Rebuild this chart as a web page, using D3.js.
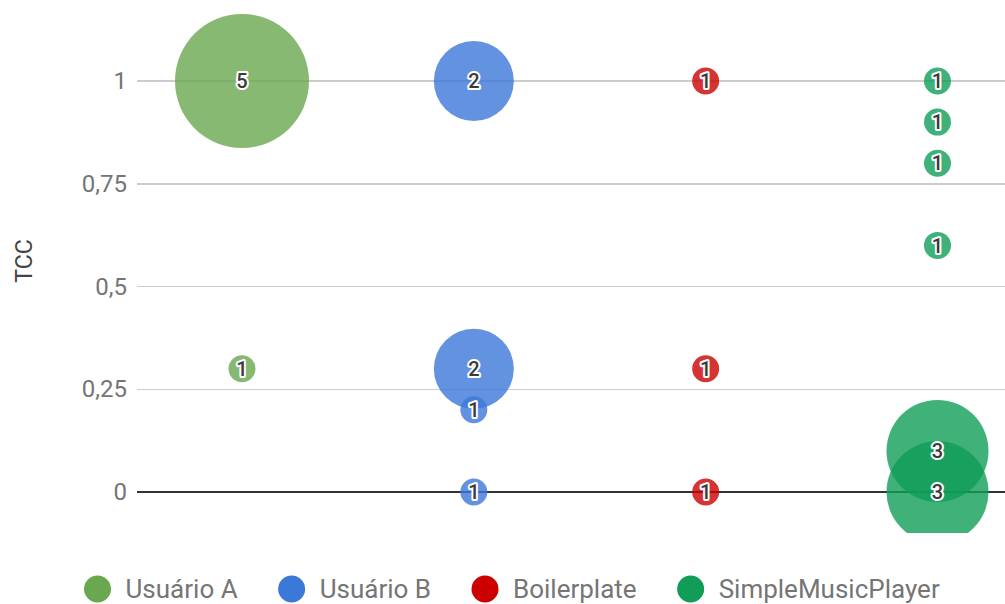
<!DOCTYPE html>
<html>
<head>
<meta charset="utf-8">
<script src="https://cdn.jsdelivr.net/npm/d3@7"></script>
<style>
  html, body { margin: 0; padding: 0; background: #fff; }
  svg { display: block; font-family: Roboto, "Noto Sans", sans-serif; }
</style>
</head>
<body>
<svg id="chart" width="1005" height="604"></svg>
<script>
// ---- data ----
const seriesNames = ["Usuário A", "Usuário B", "Boilerplate", "SimpleMusicPlayer"];
const seriesColors = ["#6aa84f", "#3c78d8", "#cc0000", "#0f9d58"];
// x position (category index 1..4), TCC value, count (label and size)
const bubbleSeries = ["Usuário A", "Usuário A",
  "Usuário B", "Usuário B", "Usuário B", "Usuário B",
  "Boilerplate", "Boilerplate", "Boilerplate",
  "SimpleMusicPlayer", "SimpleMusicPlayer", "SimpleMusicPlayer", "SimpleMusicPlayer", "SimpleMusicPlayer", "SimpleMusicPlayer"];
const bubbleX = [1, 1, 2, 2, 2, 2, 3, 3, 3, 4, 4, 4, 4, 4, 4];
const bubbleY = [1, 0.3, 1, 0.3, 0.2, 0, 1, 0.3, 0, 1, 0.9, 0.8, 0.6, 0.1, 0];
const bubbleCount = [5, 1, 2, 2, 1, 1, 1, 1, 1, 1, 1, 1, 1, 3, 3];
const yTicks = [0, 0.25, 0.5, 0.75, 1];
const yTickLabels = ["0", "0,25", "0,5", "0,75", "1"];
const yAxisTitle = "TCC";

const data = bubbleX.map((x, i) => ({
  series: bubbleSeries[i], x, y: bubbleY[i], count: bubbleCount[i]
}));

// ---- layout ----
const W = 1005, H = 604;
const plot = { left: 137, right: 1005, top: 0, bottom: 533 };

const svg = d3.select("#chart");

const xScale = d3.scaleLinear().domain([1, 4]).range([242, 937.5]);
const yScale = d3.scaleLinear().domain([0, 1]).range([492, 81]);
const rScale = d3.scaleLinear().domain([1, 2, 3, 5]).range([13.5, 40, 51, 67]);
const color = d3.scaleOrdinal().domain(seriesNames).range(seriesColors);

// gridlines
svg.append("g").selectAll("line")
  .data(yTicks)
  .join("line")
  .attr("x1", plot.left).attr("x2", plot.right)
  .attr("y1", d => yScale(d)).attr("y2", d => yScale(d))
  .attr("stroke", d => d === 0 ? "#333333" : "#cccccc")
  .attr("stroke-width", d => d === 0 ? 2 : 1.5)
  .attr("shape-rendering", "crispEdges");

// y axis labels
const yAxis = d3.axisLeft(yScale).tickValues(yTicks)
  .tickFormat(d => yTickLabels[yTicks.indexOf(d)])
  .tickSize(0).tickPadding(10);
const yAxisG = svg.append("g").attr("transform", `translate(${plot.left},0)`).call(yAxis);
yAxisG.select(".domain").remove();
yAxisG.selectAll("text")
  .attr("fill", "#757575")
  .style("font-size", "24px")
  .style("font-family", "Roboto, sans-serif");

// axis title
svg.append("text")
  .attr("transform", `translate(32,261) rotate(-90)`)
  .attr("text-anchor", "middle")
  .attr("fill", "#444")
  .style("font-size", "23px")
  .text(yAxisTitle);

// clip
svg.append("clipPath").attr("id", "plotclip")
  .append("rect")
  .attr("x", plot.left).attr("y", plot.top)
  .attr("width", plot.right - plot.left).attr("height", plot.bottom - plot.top);

const sorted = data.slice().sort((a, b) => b.count - a.count);

const bubbles = svg.append("g").attr("clip-path", "url(#plotclip)");
bubbles.selectAll("circle")
  .data(sorted)
  .join("circle")
  .attr("cx", d => xScale(d.x))
  .attr("cy", d => yScale(d.y))
  .attr("r", d => rScale(d.count))
  .attr("fill", d => color(d.series))
  .attr("fill-opacity", 0.8);

const labels = svg.append("g").attr("clip-path", "url(#plotclip)");
labels.selectAll("text")
  .data(sorted)
  .join("text")
  .attr("x", d => xScale(d.x))
  .attr("y", d => yScale(d.y))
  .attr("dy", "0.36em")
  .attr("text-anchor", "middle")
  .attr("fill", "#3a3a3a")
  .attr("stroke", "#fff")
  .attr("stroke-width", 4)
  .attr("stroke-linejoin", "round")
  .attr("paint-order", "stroke")
  .style("font-size", "20px")
  .style("font-weight", "500")
  .text(d => d.count);

// legend
const legend = svg.append("g");
let cx = 97.5;
const ly = 589;
seriesNames.forEach((name, i) => {
  const g = legend.append("g");
  g.append("circle")
    .attr("cx", cx).attr("cy", ly).attr("r", 13.5)
    .attr("fill", seriesColors[i]);
  const t = g.append("text")
    .attr("x", cx + 28).attr("y", ly)
    .attr("dy", "0.36em")
    .attr("fill", "#757575")
    .style("font-size", "26px")
    .text(name);
  const w = t.node().getComputedTextLength();
  cx = cx + 28 + w + 54;
});
</script>
</body>
</html>
